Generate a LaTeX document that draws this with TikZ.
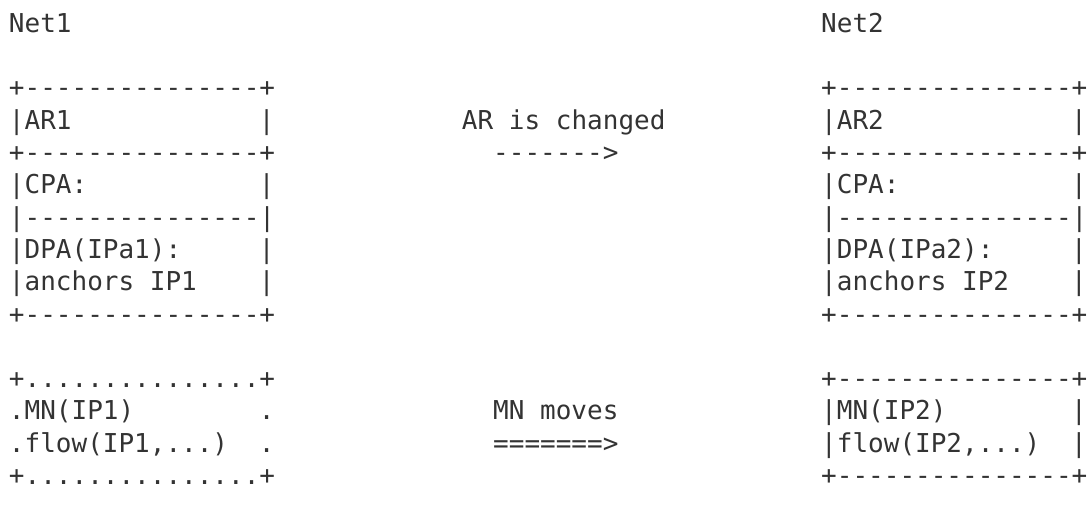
\documentclass[tikz,border=0pt]{standalone}
\usepackage{fontspec}
\setmonofont{DejaVu Sans Mono}
\usepackage{tikz}
\definecolor{ink}{HTML}{333333}
\tikzset{
  txt/.style  = {anchor=base west, inner sep=0, outer sep=0, text=ink, font=\fontsize{26}{32}\selectfont\ttfamily},
  edge/.style = {txt}
}

\begin{document}
\begin{tikzpicture}[x=15.62pt, y=32.3pt]
  \useasboundingbox (-9pt,0pt) rectangle (1079pt,-523pt);
  \node[txt] (net1) at (0,-1) {Net1};  \node[txt] (net2) at (52,-1) {Net2};
  % old access router
  \node[txt] (ar1top) at (0,-3)  {+---------------+};
  \node[txt] (ar1)    at (0,-4)  {|AR1};
  \node[txt] (ar1mid) at (0,-5)  {+---------------+};
  \node[txt] (cpa1)   at (0,-6)  {|CPA:};
  \node[txt] (sep1)   at (0,-7)  {|---------------|};
  \node[txt] (dpa1)   at (0,-8)  {|DPA(IPa1):};
  \node[txt] (anc1)   at (0,-9)  {|anchors IP1};
  \node[txt] (ar1bot) at (0,-10) {+---------------+};
  \foreach \r in {4,6,8,9} \node[edge] (ar1r\r) at (16,-\r) {|};
  % new access router
  \node[txt] (ar2top) at (52,-3)  {+---------------+};
  \node[txt] (ar2)    at (52,-4)  {|AR2};
  \node[txt] (ar2mid) at (52,-5)  {+---------------+};
  \node[txt] (cpa2)   at (52,-6)  {|CPA:};
  \node[txt] (sep2)   at (52,-7)  {|---------------|};
  \node[txt] (dpa2)   at (52,-8)  {|DPA(IPa2):};
  \node[txt] (anc2)   at (52,-9)  {|anchors IP2};
  \node[txt] (ar2bot) at (52,-10) {+---------------+};
  \foreach \r in {4,6,8,9} \node[edge] (ar2r\r) at (68,-\r) {|};
  % AR change
  \node[txt] (chg)  at (29,-4) {AR is changed};
  \node[txt] (chga) at (31,-5) {------->};
  % mobile node, before (dotted) and after
  \node[txt] (mn1top) at (0,-12) {+...............+};
  \node[txt] (mn1)    at (0,-13) {.MN(IP1)};
  \node[txt] (fl1)    at (0,-14) {.flow(IP1,...)};
  \node[txt] (mn1bot) at (0,-15) {+...............+};
  \foreach \r in {13,14} \node[edge] (mn1r\r) at (16,-\r) {.};
  \node[txt] (mn2top) at (52,-12) {+---------------+};
  \node[txt] (mn2)    at (52,-13) {|MN(IP2)};
  \node[txt] (fl2)    at (52,-14) {|flow(IP2,...)};
  \node[txt] (mn2bot) at (52,-15) {+---------------+};
  \foreach \r in {13,14} \node[edge] (mn2r\r) at (68,-\r) {|};
  \node[txt] (mov)  at (31,-13) {MN moves};
  \node[txt] (mova) at (31,-14) {=======>};
\end{tikzpicture}
\end{document}
